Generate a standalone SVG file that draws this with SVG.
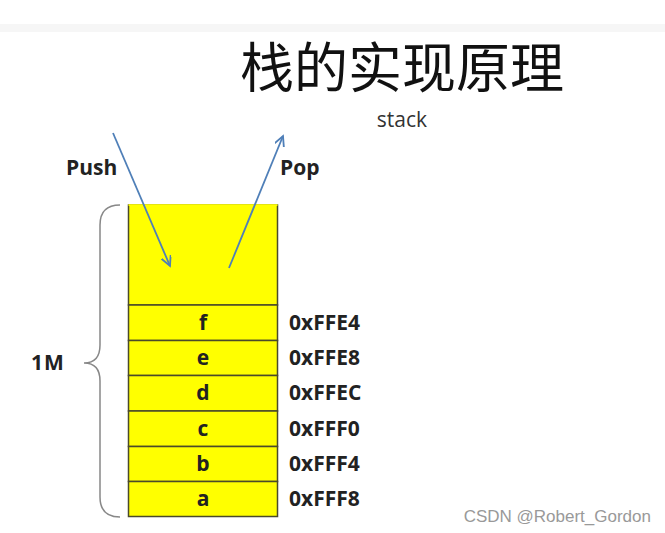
<svg xmlns="http://www.w3.org/2000/svg" width="665" height="533" viewBox="0 0 665 533">
<style>
.cell{fill:#ffff00;stroke:#4a4a2a;stroke-width:1.5}
.lbl{font-family:"Open Sans","Liberation Sans",sans-serif;font-weight:bold;font-size:21px;fill:#222}
.cl{text-anchor:middle}
.arr{stroke:#4f7fb8;stroke-width:1.8;fill:none;marker-end:url(#ah)}
</style>
<defs>
<marker id="ah" markerWidth="12" markerHeight="12" refX="10" refY="5" orient="auto" markerUnits="userSpaceOnUse">
<path d="M0,0 L10,5 L0,10" fill="none" stroke="#4f7fb8" stroke-width="1.8"/>
</marker>
</defs>
<rect width="665" height="533" fill="#fff"/>
<rect x="0" y="24" width="665" height="8" fill="#f6f6f6"/>
<g id="title">
<text x="402" y="88" text-anchor="middle" font-family="'Noto Sans CJK SC',sans-serif" font-size="54" fill="#111">栈的实现原理</text>
<text x="402" y="127" text-anchor="middle" font-family="'Open Sans','Liberation Sans',sans-serif" font-size="21" fill="#333">stack</text>
</g>
<g id="stack">
<rect class="cell" x="128.5" y="205" width="149" height="100"/>
<rect class="cell" x="128.5" y="305" width="149" height="35.5"/>
<rect class="cell" x="128.5" y="340.5" width="149" height="35"/>
<rect class="cell" x="128.5" y="375.5" width="149" height="35.5"/>
<rect class="cell" x="128.5" y="411" width="149" height="35.5"/>
<rect class="cell" x="128.5" y="446.5" width="149" height="35"/>
<rect class="cell" x="128.5" y="481.5" width="149" height="35"/>
<rect x="128.5" y="204.2" width="149" height="1.8" fill="#ffff00"/>
</g>
<g id="cells">
<text class="lbl cl" x="203" y="330">f</text>
<text class="lbl cl" x="203" y="365">e</text>
<text class="lbl cl" x="203" y="400">d</text>
<text class="lbl cl" x="203" y="436">c</text>
<text class="lbl cl" x="203" y="471">b</text>
<text class="lbl cl" x="203" y="506">a</text>
</g>
<g id="addresses">
<text class="lbl" x="289" y="330">0xFFE4</text>
<text class="lbl" x="289" y="365">0xFFE8</text>
<text class="lbl" x="289" y="400">0xFFEC</text>
<text class="lbl" x="289" y="436">0xFFF0</text>
<text class="lbl" x="289" y="471">0xFFF4</text>
<text class="lbl" x="289" y="506">0xFFF8</text>
</g>
<g id="brace">
<path d="M120,205 Q100,205 100,225 L100,345 Q100,363 84,363 Q100,363 100,381 L100,497 Q100,517 120,517" fill="none" stroke="#888" stroke-width="1.5"/>
<text class="lbl" x="31" y="370" letter-spacing="1">1M</text>
</g>
<g id="connectors">
<line class="arr" x1="113" y1="133" x2="170" y2="266"/>
<line class="arr" x1="229" y1="268" x2="283" y2="136"/>
</g>
<g id="ops">
<text class="lbl" x="66" y="175">Push</text>
<text class="lbl" x="280" y="175">Pop</text>
</g>
<text x="651" y="522" text-anchor="end" font-family="'Liberation Sans',sans-serif" font-size="17" fill="#999">CSDN @Robert_Gordon</text>
</svg>
